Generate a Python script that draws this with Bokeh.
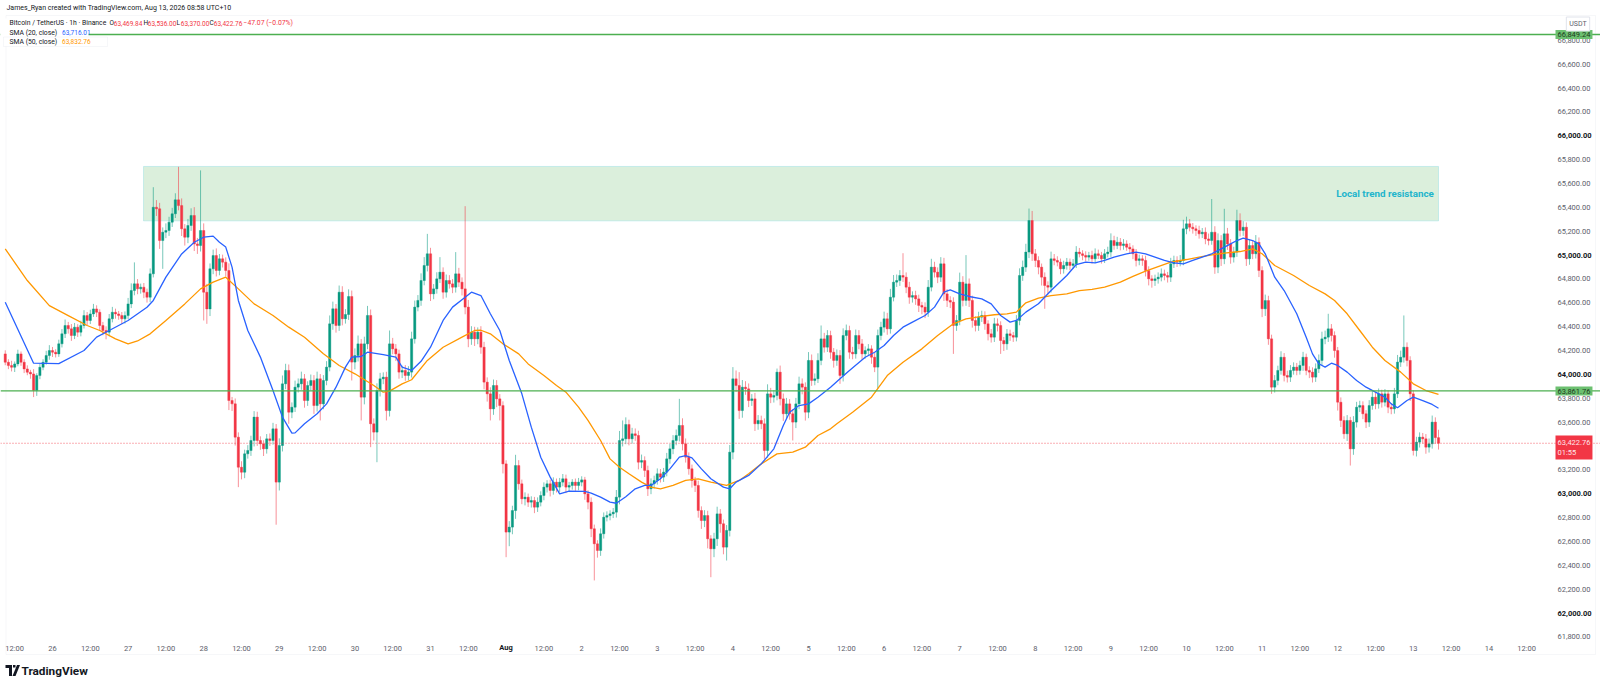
import numpy as np
from bokeh.plotting import figure
from bokeh.models import (ColumnDataSource, Span, BoxAnnotation, PolyAnnotation, Label, FixedTicker,
                          NumeralTickFormatter, Range1d, LinearAxis)
from bokeh.embed import file_html
from bokeh.resources import INLINE

# ---------------- data (hours counted from 26 Jul 00:00, UTC+10) ----------------
FIRST_HOUR = -15          # first candle: 25 Jul 09:00
FIRST_OPEN = 64172.0

CLOSE = [
    64102, 64074, 64060, 64088, 64172, 64102, 64046, 64018, 64004, 63865,
    63990, 64060, 64102, 64158, 64200, 64186, 64172, 64256, 64340, 64410,
    64382, 64326, 64396, 64354, 64410, 64493, 64452, 64507, 64549, 64521,
    64410, 64368, 64354, 64466, 64521, 64507, 64493, 64466, 64493, 64591,
    64703, 64759, 64717, 64731, 64689, 64647, 64843, 65401, 65388, 65122,
    65192, 65206, 65276, 65346, 65463, 65415, 65220, 65150, 65248, 65332,
    65094, 65080, 65206, 64689, 64549, 64885, 64996, 64871, 64969, 64941,
    64871, 63781, 63753, 63474, 63222, 63180, 63334, 63362, 63446, 63642,
    63446, 63418, 63376, 63460, 63446, 63544, 63097, 63404, 63921, 64033,
    63683, 63725, 63893, 63921, 63963, 63781, 63907, 63949, 63739, 63963,
    63753, 63949, 64061, 64424, 64550, 64410, 64689, 64466, 64502, 64653,
    64103, 64158, 64256, 63809, 64256, 64494, 63586, 63516, 63865, 63963,
    63977, 63697, 64256, 64214, 64172, 64019, 64033, 63991, 64019, 64298,
    64564, 64620, 64787, 64913, 65011, 64675, 64717, 64801, 64857, 64689,
    64787, 64759, 64731, 64843, 64773, 64717, 64564, 64298, 64354, 64298,
    64354, 64228, 63935, 63837, 63711, 63907, 63795, 63739, 63250, 62678,
    62720, 62859, 63236, 63083, 62957, 62971, 62929, 62943, 62887, 62929,
    62985, 63055, 63083, 63027, 63097, 63055, 63097, 63125, 63055, 63069,
    63097, 63069, 63097, 63116, 62999, 62929, 62706, 62580, 62524, 62664,
    62803, 62817, 62831, 62845, 62971, 63446, 63460, 63580, 63460, 63502,
    63488, 63264, 63278, 63195, 63041, 63083, 63111, 63167, 63139, 63181,
    63292, 63376, 63446, 63488, 63572, 63418, 63306, 63209, 63111, 63069,
    62859, 62775, 62817, 62622, 62538, 62622, 62831, 62748, 62552, 62692,
    63348, 63963, 63907, 63697, 63893, 63879, 63781, 63795, 63586, 63614,
    63586, 63362, 63837, 63809, 63823, 64019, 63795, 63670, 63753, 63670,
    63600, 63753, 63921, 63893, 63683, 64117, 63949, 63963, 64117, 64298,
    64228, 64326, 64186, 64117, 64159, 63991, 64326, 64368, 64186, 64172,
    64326, 64256, 64172, 64200, 64214, 64144, 64061, 64326, 64396, 64466,
    64382, 64647, 64773, 64787, 64829, 64815, 64731, 64647, 64661, 64633,
    64578, 64564, 64522, 64731, 64899, 64857, 64815, 64927, 64675, 64620,
    64606, 64410, 64452, 64773, 64620, 64759, 64620, 64452, 64410, 64480,
    64494, 64424, 64340, 64312, 64424, 64410, 64284, 64256, 64340, 64326,
    64312, 64452, 64829, 64899, 65025, 65290, 65011, 64955, 64899, 64815,
    64745, 64731, 64969, 64955, 64941, 64885, 64913, 64941, 64913, 64927,
    65025, 65011, 64997, 64983, 64997, 64969, 65011, 64997, 64969, 65011,
    65025, 65122, 65080, 65108, 65080, 65094, 65066, 65052, 65011, 64955,
    64969, 64955, 64871, 64801, 64787, 64801, 64815, 64843, 64829, 64815,
    64927, 64955, 64941, 64955, 65220, 65262, 65234, 65220, 65206, 65178,
    65192, 65136, 65122, 65192, 64899, 65122, 64969, 65178, 65094, 64983,
    65025, 65290, 65206, 65234, 64969, 65080, 65011, 65108, 64871, 64550,
    64619, 64298, 63893, 63949, 64033, 64144, 63991, 63977, 64033, 64061,
    64033, 64075, 64144, 64033, 64019, 63977, 64047, 64117, 64298, 64312,
    64382, 64326, 64200, 63767, 63614, 63502, 63614, 63376, 63600, 63725,
    63739, 63670, 63600, 63739, 63809, 63753, 63837, 63767, 63837, 63725,
    63711, 63837, 64103, 64144, 64228, 64117, 63837, 63362, 63432, 63474,
    63460, 63390, 63418, 63600, 63469.84, 63422.76,
]

UP_WICK = [
    30, 25, 40, 20, 35, 20, 25, 30, 20, 40,
    20, 30, 25, 40, 45, 30, 25, 35, 40, 50,
    30, 40, 35, 25, 40, 45, 30, 35, 42, 30,
    25, 30, 35, 40, 45, 30, 25, 30, 35, 50,
    60, 180, 40, 30, 35, 30, 45, 168, 60, 50,
    40, 60, 45, 50, 55, 277, 60, 40, 55, 60,
    70, 50, 504, 60, 70, 45, 50, 60, 40, 35,
    40, 60, 30, 45, 40, 50, 35, 45, 40, 50,
    45, 35, 30, 40, 45, 50, 40, 60, 70, 56,
    50, 40, 55, 45, 60, 40, 35, 50, 45, 60,
    40, 45, 50, 70, 60, 40, 56, 50, 45, 60,
    50, 60, 70, 40, 60, 80, 50, 45, 60, 50,
    40, 45, 112, 50, 40, 35, 40, 45, 50, 60,
    55, 45, 60, 70, 167, 50, 40, 55, 126, 40,
    50, 45, 40, 182, 50, 40, 693, 60, 50, 45,
    40, 50, 45, 40, 55, 50, 45, 40, 35, 30,
    50, 40, 90, 45, 35, 40, 30, 35, 30, 40,
    35, 40, 30, 35, 40, 30, 35, 40, 35, 30,
    25, 30, 35, 30, 25, 30, 40, 35, 30, 45,
    40, 35, 30, 35, 60, 80, 154, 60, 40, 50,
    45, 40, 50, 35, 40, 45, 40, 45, 40, 35,
    50, 40, 45, 50, 223, 60, 45, 40, 35, 30,
    40, 35, 45, 40, 30, 50, 60, 40, 35, 45,
    60, 98, 70, 112, 60, 50, 45, 40, 50, 45,
    40, 45, 80, 50, 45, 30, 55, 45, 50, 40,
    40, 50, 60, 45, 40, 70, 50, 45, 60, 112,
    50, 45, 40, 35, 50, 45, 60, 50, 40, 45,
    50, 45, 40, 35, 40, 30, 35, 50, 45, 60,
    50, 70, 60, 50, 45, 187, 40, 45, 35, 40,
    35, 30, 40, 60, 70, 45, 40, 56, 50, 40,
    35, 40, 45, 80, 50, 241, 45, 40, 35, 45,
    40, 35, 30, 40, 50, 45, 35, 30, 40, 35,
    30, 45, 60, 55, 70, 100, 80, 40, 35, 30,
    40, 35, 60, 40, 35, 30, 40, 35, 30, 40,
    50, 35, 30, 35, 30, 40, 45, 35, 30, 40,
    45, 60, 40, 45, 35, 40, 30, 35, 30, 40,
    35, 30, 40, 35, 30, 35, 40, 45, 35, 30,
    50, 40, 35, 45, 76, 60, 40, 35, 30, 40,
    35, 40, 45, 278, 50, 60, 45, 210, 50, 40,
    45, 90, 60, 50, 40, 55, 45, 60, 40, 35,
    50, 40, 35, 45, 40, 50, 35, 40, 45, 40,
    35, 40, 45, 30, 35, 40, 45, 50, 60, 55,
    126, 40, 35, 30, 40, 35, 45, 30, 50, 45,
    40, 35, 30, 45, 50, 40, 45, 35, 40, 30,
    35, 50, 60, 55, 266, 40, 35, 30, 45, 40,
    35, 40, 45, 55, 40, 66.16,
]

DOWN_WICK = [
    25, 30, 35, 40, 20, 30, 35, 25, 40, 55,
    45, 30, 25, 20, 35, 40, 30, 25, 30, 35,
    40, 45, 30, 40, 35, 25, 40, 30, 25, 40,
    45, 40, 60, 35, 30, 40, 35, 45, 40, 30,
    35, 40, 45, 40, 50, 45, 40, 30, 60, 70,
    237, 50, 45, 40, 35, 40, 60, 70, 50, 45,
    60, 70, 50, 237, 125, 60, 45, 50, 40, 45,
    50, 80, 60, 70, 167, 60, 50, 40, 45, 50,
    45, 50, 60, 40, 45, 35, 357, 70, 50, 45,
    97, 50, 40, 45, 50, 60, 45, 40, 70, 50,
    139, 45, 40, 35, 50, 60, 45, 55, 40, 45,
    154, 60, 50, 195, 60, 45, 196, 70, 252, 50,
    45, 83, 50, 45, 60, 55, 50, 45, 40, 45,
    40, 35, 45, 40, 50, 60, 45, 40, 35, 55,
    45, 40, 50, 45, 40, 55, 60, 70, 50, 60,
    45, 55, 60, 65, 97, 50, 70, 125, 80, 210,
    118, 60, 70, 50, 45, 55, 40, 45, 50, 40,
    35, 40, 45, 50, 35, 45, 40, 35, 50, 40,
    35, 45, 40, 35, 50, 60, 70, 307, 60, 45,
    40, 35, 40, 35, 45, 60, 50, 45, 55, 40,
    45, 60, 50, 55, 60, 45, 40, 35, 45, 40,
    35, 40, 45, 40, 50, 55, 45, 50, 60, 55,
    60, 70, 55, 80, 238, 70, 60, 75, 60, 112,
    50, 60, 55, 70, 60, 50, 55, 45, 60, 50,
    45, 70, 60, 50, 45, 40, 55, 60, 45, 50,
    154, 50, 45, 60, 70, 50, 45, 40, 35, 40,
    45, 40, 55, 60, 45, 70, 50, 40, 55, 45,
    40, 45, 50, 40, 45, 55, 42, 182, 40, 45,
    50, 40, 35, 40, 45, 40, 50, 55, 45, 50,
    55, 60, 50, 40, 35, 45, 50, 40, 60, 55,
    50, 238, 45, 40, 50, 45, 55, 60, 50, 45,
    40, 50, 55, 45, 40, 50, 112, 60, 50, 45,
    40, 35, 40, 45, 40, 50, 60, 55, 60, 70,
    195, 60, 45, 40, 35, 45, 40, 35, 40, 30,
    35, 30, 40, 35, 30, 40, 35, 30, 40, 35,
    30, 40, 35, 30, 40, 35, 30, 40, 45, 50,
    40, 45, 50, 55, 60, 45, 40, 35, 40, 45,
    40, 35, 40, 35, 40, 45, 35, 40, 45, 40,
    35, 45, 40, 35, 56, 50, 60, 45, 50, 55,
    45, 40, 50, 45, 60, 50, 45, 40, 55, 70,
    60, 50, 56, 45, 40, 35, 50, 45, 40, 35,
    40, 35, 45, 40, 50, 45, 40, 35, 40, 45,
    40, 50, 60, 70, 55, 42, 60, 140, 50, 45,
    40, 45, 50, 40, 35, 45, 40, 45, 35, 50,
    45, 40, 35, 40, 45, 50, 60, 42, 50, 45,
    40, 55, 45, 40, 50, 52.76,
]

# SMA readings (candle index, value)
SMA20_IDX = [0, 9, 17, 25, 29, 33, 39, 45, 47, 51, 56, 60, 63, 66, 68, 70, 72, 74, 77, 81,
             85, 88, 91, 92, 95, 99, 102, 105, 108, 110, 113, 115, 120, 124, 126, 129, 132, 135, 139, 142,
             146, 148, 151, 154, 157, 160, 164, 167, 170, 173, 176, 179, 184, 186, 189, 192, 194, 197, 200, 203,
             205, 208, 211, 214, 216, 218, 221, 224, 228, 230, 232, 236, 240, 244, 247, 249, 252, 255, 258, 262,
             265, 268, 273, 276, 279, 282, 285, 288, 292, 295, 298, 300, 303, 306, 310, 313, 316, 319, 321, 324,
             328, 332, 337, 340, 343, 346, 349, 352, 356, 359, 362, 365, 368, 371, 374, 377, 380, 383, 386, 389,
             391, 393, 396, 398, 400, 403, 406, 410, 413, 415, 417, 419, 421, 423, 426, 429, 432, 435, 438, 440,
             442, 445, 447, 450, 453, 455]
SMA20_VAL = [64605, 64094, 64090, 64200, 64312, 64368, 64452, 64563, 64620, 64815, 65010, 65108, 65150, 65159, 65108, 65067, 64899, 64620, 64368, 64145,
             63865, 63642, 63508, 63510, 63586, 63670, 63753, 63893, 64061, 64145, 64150, 64186, 64165, 64145, 64061, 64033, 64110, 64228, 64452, 64564,
             64647, 64689, 64661, 64508, 64368, 64117, 63837, 63558, 63306, 63139, 62999, 63021, 63020, 63004, 62971, 62929, 62920, 62975, 63041, 63069,
             63069, 63125, 63208, 63306, 63320, 63300, 63208, 63125, 63055, 63041, 63097, 63153, 63250, 63376, 63572, 63683, 63739, 63753, 63809, 63893,
             63963, 64033, 64144, 64186, 64242, 64326, 64396, 64438, 64494, 64564, 64689, 64709, 64675, 64653, 64633, 64591, 64494, 64438, 64452, 64522,
             64592, 64703, 64829, 64921, 64941, 64935, 64955, 64983, 65011, 65025, 65011, 64983, 64955, 64935, 64927, 64955, 64983, 65011, 65052, 65094,
             65122, 65142, 65122, 65094, 65011, 64815, 64703, 64508, 64312, 64172, 64089, 64061, 64094, 64075, 64019, 63949, 63893, 63851, 63809, 63753,
             63720, 63781, 63809, 63781, 63748, 63716.01]

SMA50_IDX = [0, 7, 14, 20, 26, 30, 35, 39, 42, 46, 51, 57, 62, 66, 70, 74, 79, 85, 90, 95,
             101, 106, 111, 117, 120, 122, 126, 129, 134, 139, 145, 149, 151, 154, 158, 163, 166, 171, 175, 178,
             182, 185, 189, 192, 195, 198, 202, 205, 208, 212, 216, 220, 224, 229, 233, 236, 240, 245, 250, 254,
             258, 262, 264, 269, 275, 280, 285, 291, 296, 301, 305, 310, 314, 318, 321, 324, 328, 332, 337, 341,
             345, 349, 354, 358, 362, 366, 370, 375, 379, 383, 387, 392, 396, 399, 403, 409, 414, 419, 422, 426,
             430, 434, 438, 443, 447, 451, 455]
SMA50_VAL = [65052, 64787, 64577, 64493, 64410, 64368, 64298, 64256, 64280, 64340, 64452, 64591, 64717, 64773, 64815, 64717, 64591, 64494, 64396, 64312,
             64173, 64075, 64005, 63907, 63851, 63860, 63921, 63955, 64117, 64228, 64312, 64368, 64370, 64340, 64256, 64172, 64088, 63991, 63907, 63851,
             63726, 63614, 63446, 63292, 63222, 63167, 63097, 63055, 63041, 63069, 63111, 63125, 63097, 63069, 63111, 63167, 63250, 63334, 63348, 63390,
             63488, 63544, 63586, 63683, 63809, 63990, 64102, 64214, 64326, 64424, 64466, 64486, 64500, 64508, 64522, 64600, 64640, 64660, 64675, 64703,
             64712, 64731, 64773, 64821, 64865, 64904, 64941, 64963, 64983, 65002, 65016, 65030, 65052, 65011, 64913, 64829, 64745, 64675, 64619, 64508,
             64368, 64228, 64117, 64019, 63921, 63865, 63832.76]

LEVEL_TOP = 66849.24
LEVEL_MID = 63861.76
LAST_PRICE = 63422.76
ZONE_LEFT_H, ZONE_RIGHT_H = 28.9, 440.0
ZONE_BOTTOM, ZONE_TOP = 65287, 65743

PRICE_TICKS = list(range(61800, 66801, 200))
BOLD_PRICES = [62000, 63000, 64000, 65000, 66000]
TIME_TICKS = [-12, 0, 12, 24, 36, 48, 60, 72, 84, 96, 108, 120, 132, 144, 156, 168, 180, 192,
              204, 216, 228, 240, 252, 264, 276, 288, 300, 312, 324, 336, 348, 360, 372, 384,
              396, 408, 420, 432, 444, 456, 468]
TIME_LABELS = ["12:00", "26", "12:00", "27", "12:00", "28", "12:00", "29", "12:00", "30", "12:00",
               "31", "12:00", "Aug", "12:00", "2", "12:00", "3", "12:00", "4", "12:00", "5", "12:00",
               "6", "12:00", "7", "12:00", "8", "12:00", "9", "12:00", "10", "12:00", "11", "12:00",
               "12", "12:00", "13", "12:00", "14", "12:00"]

assert len(CLOSE) == len(UP_WICK) == len(DOWN_WICK), (len(CLOSE), len(UP_WICK), len(DOWN_WICK))
assert len(SMA20_IDX) == len(SMA20_VAL) and len(SMA50_IDX) == len(SMA50_VAL)

# ---------------- layout (pixels of the 1600 x 686 canvas) ----------------
W, H = 1600, 686
X_AT_H0, PX_PER_H = 52.0, 3.15          # 26 Jul 00:00 position, pixels per hour
Y_AT_66K, PX_PER_USD = 135.3, 0.1193    # 66,000 position (from top), pixels per USD
PANE_RIGHT = 1552                       # where the price scale starts
TIME_AXIS_TOP = 641

def h_at(px):
    return (px - X_AT_H0) / PX_PER_H

def v_at(py):
    return 66000 - (py - Y_AT_66K) / PX_PER_USD

UP_COLOR = "#089981"
DOWN_COLOR = "#F23645"
TEXT = "#131722"
AXIS_TEXT = "#5D606B"
FONT = "Roboto"

n = len(CLOSE)
hours = np.arange(FIRST_HOUR, FIRST_HOUR + n, dtype=float)
close = np.array(CLOSE, dtype=float)
open_ = np.concatenate([[FIRST_OPEN], close[:-1]])
high = np.maximum(open_, close) + np.array(UP_WICK, dtype=float)
low = np.minimum(open_, close) - np.array(DOWN_WICK, dtype=float)
colors = np.where(close >= open_, UP_COLOR, DOWN_COLOR)

src = ColumnDataSource(dict(x=hours, top=np.maximum(open_, close), bottom=np.minimum(open_, close),
                            h=high, l=low, color=colors))

p = figure(width=W, height=H, x_range=Range1d(h_at(0), h_at(W)), y_range=Range1d(v_at(H), v_at(0)),
           output_backend="svg", toolbar_location=None, x_axis_location=None, y_axis_location=None,
           min_border=0, background_fill_color="white", border_fill_color="white")
p.outline_line_color = None
p.grid.visible = False

def screen_box(l, r, t, b, **kw):
    return BoxAnnotation(left=l, right=r, top=H - t, bottom=H - b, left_units="screen",
                         right_units="screen", top_units="screen", bottom_units="screen", **kw)

# chart widget border
p.add_layout(screen_box(5.5, 1595, 15, 654, fill_alpha=0, line_color="#E0E3EB", line_width=1,
                        level="underlay"))

# zone
p.add_layout(BoxAnnotation(left=ZONE_LEFT_H, right=ZONE_RIGHT_H, bottom=ZONE_BOTTOM, top=ZONE_TOP,
                           fill_color="#4CAF50", fill_alpha=0.2, line_color="#62CFDB", line_width=1,
                           level="underlay"))

# candles
p.segment(x0="x", y0="l", x1="x", y1="h", color="color", line_alpha=0.55, line_width=1, source=src)
p.vbar(x="x", width=0.72, top="top", bottom="bottom", fill_color="color", line_color="color",
       line_width=0.4, source=src)

# moving averages
p.line([FIRST_HOUR + i for i in SMA50_IDX], SMA50_VAL, line_color="#FF9800", line_width=1.3)
p.line([FIRST_HOUR + i for i in SMA20_IDX], SMA20_VAL, line_color="#2962FF", line_width=1.3)

# horizontal levels
p.add_layout(Span(location=LEVEL_TOP, dimension="width", line_color="#4CAF50", line_width=1.3))
p.add_layout(Span(location=LEVEL_MID, dimension="width", line_color="#4CAF50", line_width=1.3))
p.add_layout(Span(location=LAST_PRICE, dimension="width", line_color=DOWN_COLOR, line_width=1,
                  line_dash="1 2", line_alpha=0.8))

# axes (placed inside the canvas at fixed locations)
yax = LinearAxis(fixed_location=h_at(PANE_RIGHT),
                 ticker=FixedTicker(ticks=[t for t in PRICE_TICKS if t not in BOLD_PRICES]),
                 formatter=NumeralTickFormatter(format="0,0.00"))
yax.major_label_text_font_size = "7.5px"
yax.major_label_text_color = AXIS_TEXT
yax.major_label_text_font = FONT
yax.major_label_standoff = 5
yax.axis_line_color = None
yax.major_tick_line_color = None
yax.minor_tick_line_color = None
yax.major_tick_out = 0
yax.major_tick_in = 0
p.add_layout(yax, "right")

xax = LinearAxis(fixed_location=v_at(TIME_AXIS_TOP), ticker=FixedTicker(ticks=TIME_TICKS))
xax.major_label_overrides = {t: ("" if lab == "Aug" else lab) for t, lab in zip(TIME_TICKS, TIME_LABELS)}
xax.major_label_text_font_size = "7.5px"
xax.major_label_text_color = AXIS_TEXT
xax.major_label_text_font = FONT
xax.major_label_standoff = 2
xax.axis_line_color = None
xax.major_tick_line_color = None
xax.minor_tick_line_color = None
xax.major_tick_out = 0
xax.major_tick_in = 0
p.add_layout(xax, "below")

for v in BOLD_PRICES:
    p.add_layout(Label(x=PANE_RIGHT + 5, y=v, x_units="screen", y_units="data", text=f"{v:,.2f}",
                       text_font=FONT, text_font_size="7.5px", text_font_style="bold",
                       text_color=TEXT, text_baseline="middle", text_align="left"))
for t, lab in zip(TIME_TICKS, TIME_LABELS):
    if lab == "Aug":
        p.add_layout(Label(x=t, y=H - 647, x_units="data", y_units="screen", text=lab,
                           text_font=FONT, text_font_size="7.5px", text_font_style="bold",
                           text_color=TEXT, text_baseline="middle", text_align="center"))

# price tags on the scale
def tag(py, text, bg, fg):
    p.add_layout(Label(x=PANE_RIGHT + 3, y=H - py, x_units="screen", y_units="screen", text=text,
                       text_font=FONT, text_font_size="7.5px", text_color=fg, text_baseline="middle",
                       text_align="left", background_fill_color=bg, background_fill_alpha=1.0,
                       padding=2))

tag(34, f"{LEVEL_TOP:,.2f}", "#6CC070", "#1D3B1F")
tag(390.5, f"{LEVEL_MID:,.2f}", "#6CC070", "#1D3B1F")
tag(447, f"{LAST_PRICE:,.2f}\n01:55", DOWN_COLOR, "#FFE5E8")
p.add_layout(Label(x=1577.5, y=H - 23.5, x_units="screen", y_units="screen", text="USDT",
                   text_font=FONT, text_font_size="7px", text_color=AXIS_TEXT, text_baseline="middle",
                   text_align="center", border_line_color="#E0E3EB", background_fill_color="white",
                   padding=3))

# zone caption
p.add_layout(Label(x=ZONE_RIGHT_H - 1.5, y=65516, text="Local trend resistance", text_font=FONT,
                   text_font_size="9.8px", text_font_style="bold", text_color="#22B5CC",
                   text_baseline="middle", text_align="right"))

# header
p.add_layout(Label(x=6, y=H - 7.5, x_units="screen", y_units="screen",
                   text="James_Ryan created with TradingView.com, Aug 13, 2026 08:58 UTC+10",
                   text_font=FONT, text_font_size="7px", text_color=TEXT, text_baseline="middle",
                   text_align="left"))

# legend block
p.add_layout(screen_box(0, 88, 18, 46, fill_color="white", fill_alpha=1, line_alpha=0))
p.add_layout(screen_box(3, 107, 36.5, 46, fill_alpha=0, line_color="#E0E3EB", line_width=1))

def leg(x, py, text, color, size="6.8px"):
    p.add_layout(Label(x=x, y=H - py, x_units="screen", y_units="screen", text=text, text_font=FONT,
                       text_font_size=size, text_color=color, text_baseline="middle",
                       text_align="left"))

VAL_SIZE = "6.5px"
leg(9, 22.7, "Bitcoin / TetherUS · 1h · Binance", TEXT)
for x, lab, val in [(109, "O", "63,469.84"), (143, "H", "63,536.00"), (176, "L", "63,370.00"),
                    (209, "C", "63,422.76")]:
    leg(x, 22.7, lab, TEXT, VAL_SIZE)
    leg(x + 4.3, 22.7, val, DOWN_COLOR, VAL_SIZE)
leg(243, 22.7, "\u221247.07 (\u22120.07%)", DOWN_COLOR, "6.8px")
leg(9, 32, "SMA (20, close)", TEXT)
leg(61.5, 32, "63,716.01", "#2962FF", VAL_SIZE)
leg(9, 41, "SMA (50, close)", TEXT)
leg(61.5, 41, "63,832.76", "#FF9800", VAL_SIZE)

# footer: logo + wordmark
def logo_box(l, r, t, b):
    p.add_layout(screen_box(l, r, t, b, fill_color=TEXT, fill_alpha=1, line_alpha=0))

logo_box(5, 11.5, 664.5, 667.5)
logo_box(8.5, 11.5, 664.5, 675.5)
logo_box(12.5, 15, 664.5, 667)
p.add_layout(PolyAnnotation(xs=[16.5, 19.5, 15.0, 12.0], ys=[H - 664.5, H - 664.5, H - 675.5, H - 675.5],
                            xs_units="screen", ys_units="screen", fill_color=TEXT, fill_alpha=1,
                            line_alpha=0))
p.add_layout(Label(x=21, y=H - 670, x_units="screen", y_units="screen", text="TradingView",
                   text_font=FONT, text_font_size="11.8px", text_font_style="bold", text_color=TEXT,
                   text_baseline="middle", text_align="left"))

open("out.html", "w").write(file_html(p, INLINE))
